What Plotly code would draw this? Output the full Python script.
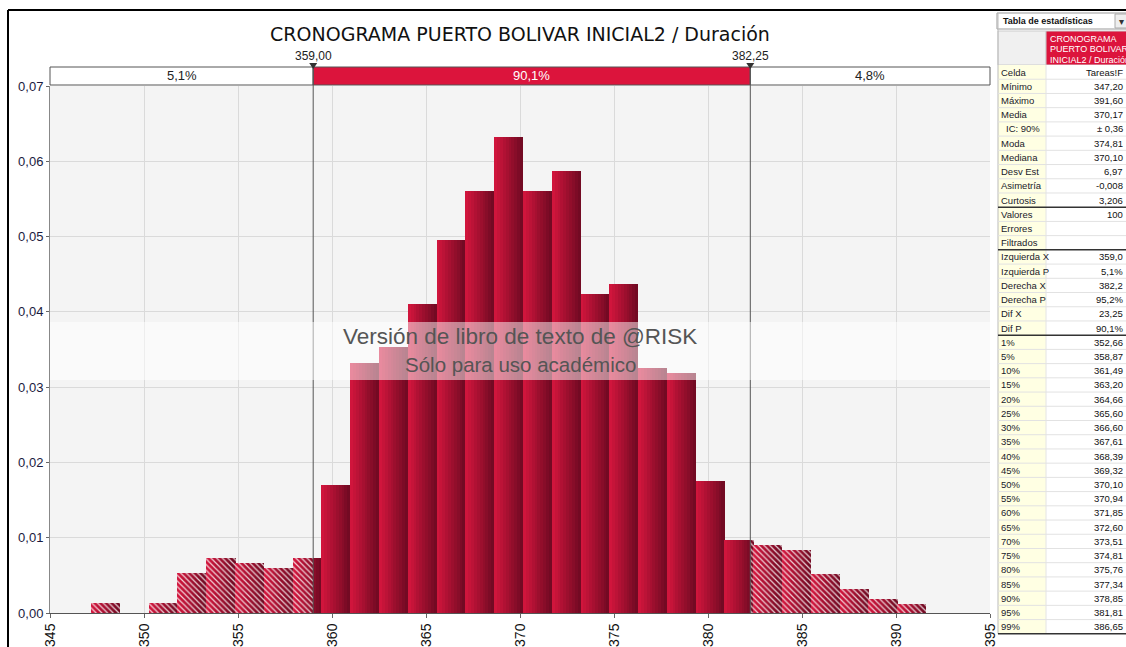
import plotly.graph_objects as go

# histogram (density per bin)
bin_edges = [347.20, 348.73, 350.26, 351.79, 353.32, 354.86, 356.39, 357.92, 359.45, 360.98,
             362.51, 364.04, 365.57, 367.10, 368.63, 370.17, 371.70, 373.23, 374.76, 376.29,
             377.82, 379.35, 380.88, 382.41, 383.94, 385.48, 387.01, 388.54, 390.07, 391.60]
density = [0.0013, 0.0, 0.0013, 0.0053, 0.0073, 0.0066, 0.0060, 0.0073, 0.0170, 0.0332,
           0.0353, 0.0410, 0.0495, 0.0560, 0.0632, 0.0560, 0.0587, 0.0424, 0.0437, 0.0325,
           0.0319, 0.0175, 0.0097, 0.0090, 0.0084, 0.0052, 0.0032, 0.0019, 0.0012]

left_x, right_x = 359.00, 382.25
band_texts = ["5,1%", "90,1%", "4,8%"]
cut_labels = ["359,00", "382,25"]
title = "CRONOGRAMA PUERTO BOLIVAR INICIAL2 / Duración"

stat_labels = ["Celda", "Mínimo", "Máximo", "Media", "IC: 90%", "Moda", "Mediana", "Desv Est",
               "Asimetría", "Curtosis", "Valores", "Errores", "Filtrados",
               "Izquierda X", "Izquierda P", "Derecha X", "Derecha P", "Dif X", "Dif P",
               "1%", "5%", "10%", "15%", "20%", "25%", "30%", "35%", "40%", "45%", "50%",
               "55%", "60%", "65%", "70%", "75%", "80%", "85%", "90%", "95%", "99%"]
stat_values = ["Tareas!F", "347,20", "391,60", "370,17", "± 0,36", "374,81", "370,10", "6,97",
               "-0,008", "3,206", "100", "", "",
               "359,0", "5,1%", "382,2", "95,2%", "23,25", "90,1%",
               "352,66", "358,87", "361,49", "363,20", "364,66", "365,60", "366,60", "367,61",
               "368,39", "369,32", "370,10", "370,94", "371,85", "372,60", "373,51", "374,81",
               "375,76", "377,34", "378,85", "381,81", "386,65"]
thick_after = ["Curtosis", "Filtrados", "Dif P", "99%"]

W, H = 1126, 647
# plot area in screen pixels: x 50..990, y 86..613
PX0, PX1, PY0, PY1 = 50, 990, 86, 613
L, R, T, B = PX0, W - PX1, PY0, H - PY1
xmin, xmax = 345, 395


def rx(x):
    return (x - PX0) / (PX1 - PX0)


def ry(y):
    return (PY1 - y) / (PY1 - PY0)


def xv(v):
    return (v - xmin) / (xmax - xmin)


# split each bin into thin slices to fake the gradient, hatch outside the cut-offs
light = (214, 22, 62)
dark = (110, 10, 34)
N = 10
xs, ws, ys, cols, pats = [], [], [], [], []
for k in range(len(density)):
    lo, hi = bin_edges[k], bin_edges[k + 1]
    for j in range(N):
        a = lo + (hi - lo) * j / N
        b = lo + (hi - lo) * (j + 1) / N
        t = (j + 0.5) / N
        c = "rgb(%d,%d,%d)" % tuple(int(light[i] + (dark[i] - light[i]) * t) for i in range(3))
        pieces = [a]
        for cut in (left_x, right_x):
            if a < cut < b:
                pieces.append(cut)
        pieces.append(b)
        for p, q in zip(pieces[:-1], pieces[1:]):
            hatched = q <= left_x or p >= right_x
            xs.append((p + q) / 2)
            ws.append((q - p) + 0.02)
            ys.append(density[k])
            cols.append(c)
            pats.append("\\" if hatched else "")

fig = go.Figure()
fig.add_trace(go.Bar(
    x=xs, y=ys, width=ws,
    marker=dict(color=cols, line=dict(width=0),
                pattern=dict(shape=pats, fgcolor="white", fgopacity=0.8, size=4, solidity=0.3)),
    hoverinfo="skip", showlegend=False))

shapes = []
annotations = []
font = "Liberation Sans"


def text(x, y, s, size, color, xanchor="center", bold=False):
    annotations.append(dict(xref="paper", yref="paper", x=x, y=y, xanchor=xanchor, yanchor="middle",
                            text="<b>%s</b>" % s if bold else s, showarrow=False,
                            font=dict(family=font, size=size, color=color)))


def rect(x0, x1, y0, y1, fill, line_color=None, lw=1, layer="above"):
    shapes.append(dict(type="rect", xref="paper", yref="paper", x0=rx(x0), x1=rx(x1), y0=ry(y1), y1=ry(y0),
                       fillcolor=fill, layer=layer,
                       line=dict(color=line_color, width=lw) if line_color else dict(width=0)))


def hline(x0, x1, y, color, lw=1):
    shapes.append(dict(type="line", xref="paper", yref="paper", x0=rx(x0), x1=rx(x1), y0=ry(y), y1=ry(y),
                       line=dict(color=color, width=lw)))


def vline(x, y0, y1, color, lw=1):
    shapes.append(dict(type="line", xref="paper", yref="paper", x0=rx(x), x1=rx(x), y0=ry(y0), y1=ry(y1),
                       line=dict(color=color, width=lw)))


# band above the plot
band_edges = [0, xv(left_x), xv(right_x), 1]
fills = ["white", "#DC143C", "white"]
for i in range(3):
    shapes.append(dict(type="rect", xref="paper", yref="paper", x0=band_edges[i], x1=band_edges[i + 1],
                       y0=ry(85), y1=ry(67), fillcolor=fills[i], line=dict(color="#555", width=1)))
    text((band_edges[i] + band_edges[i + 1]) / 2, ry(76), band_texts[i], 13,
         "white" if i == 1 else "#222")

# cut-off lines, labels and markers
d = 4 / (PX1 - PX0)
for v, lab in zip((left_x, right_x), cut_labels):
    x = xv(v)
    shapes.append(dict(type="line", xref="paper", yref="paper", x0=x, x1=x, y0=0, y1=ry(67),
                       line=dict(color="#555", width=1)))
    shapes.append(dict(type="path", xref="paper", yref="paper",
                       path="M %f %f L %f %f L %f %f Z" % (x - d, ry(63), x + d, ry(63), x, ry(69)),
                       fillcolor="#333", line=dict(width=0)))
    text(x, ry(56), lab, 12, "#222")

# watermark
shapes.append(dict(type="rect", xref="paper", yref="paper", x0=0, x1=1, y0=ry(380), y1=ry(322),
                   fillcolor="rgba(255,255,255,0.5)", line=dict(width=0), layer="above"))
text(rx(520), ry(336), "Versión de libro de texto de @RISK", 22.5, "#555")
text(rx(520), ry(364), "Sólo para uso académico", 20.5, "#555")

# outer frame
hline(8, 1126, 10, "black", 2)
vline(8, 10, 647, "black", 2)

# statistics table
tx0, tx1, tx2 = 998, 1046, 1127
rect(997, 1127, 13, 29, "white", "#999")
rect(1115, 1127, 14, 28, "#EEEEEE", "#AAA")
text(rx(1001), ry(21), "Tabla de estadísticas", 9, "#111", "left", bold=True)
text(rx(1121), ry(21), "▾", 10, "#333")
rect(tx0, tx1, 31, 65, "#F0F0F0", "#CCC")
rect(tx1, tx2, 31, 65, "#DC143C", "#CCC")
for i, line in enumerate(["CRONOGRAMA", "PUERTO BOLIVAR", "INICIAL2 / Duración"]):
    text(rx(1048), ry(39 + 10.5 * i), line, 9, "white", "left")

row_h = 14.22
top0 = 65
bottom = top0 + row_h * len(stat_labels)
rect(tx0, tx1, top0, bottom, "#FFFFE3")
rect(tx1, tx2, top0, bottom, "white")
vline(tx0, 13, bottom, "#BBB")
vline(tx1, top0, bottom, "#E4E4E4")
for i, (lab, val) in enumerate(zip(stat_labels, stat_values)):
    yt = top0 + row_h * i
    yb = yt + row_h
    thick = lab in thick_after
    hline(tx0, tx2, yb, "#333" if thick else "#E2E2E2", 1.5 if thick else 1)
    text(rx(1004 if lab == "IC: 90%" else 999), ry((yt + yb) / 2), lab, 9.5, "#1a1a2a", "left")
    if val:
        text(rx(1125), ry((yt + yb) / 2), val, 9.5, "#111", "right")

fig.update_layout(
    width=W, height=H,
    margin=dict(l=L, r=R, t=T, b=B, autoexpand=False),
    paper_bgcolor="white",
    plot_bgcolor="#F4F4F4",
    separators=",.",
    bargap=0,
    title=dict(text=title, xref="container", x=520 / W, xanchor="center",
               yref="container", y=1 - 34 / H, yanchor="middle",
               font=dict(family="DejaVu Sans", size=19, color="#111")),
    xaxis=dict(range=[xmin, xmax], tick0=345, dtick=5, tickangle=-90, ticks="outside", ticklen=4,
               tickcolor="#666", showgrid=True, gridcolor="#DADADA", showline=True, linecolor="#555",
               zeroline=False, tickfont=dict(family=font, size=14, color="#111")),
    yaxis=dict(range=[0, 0.07], dtick=0.01, tickformat=".2f", ticks="outside", ticklen=3,
               tickcolor="#666", showgrid=True, gridcolor="#DADADA", showline=True, linecolor="#888",
               zeroline=False, tickfont=dict(family=font, size=13, color="#1a1a40")),
    shapes=shapes,
    annotations=annotations,
)

# drop the page margin so the figure sits at the window's top-left corner
fig.write_html("out.html", config={"displayModeBar": False},
               post_script="document.body.style.margin='0';document.body.style.overflow='hidden';")
